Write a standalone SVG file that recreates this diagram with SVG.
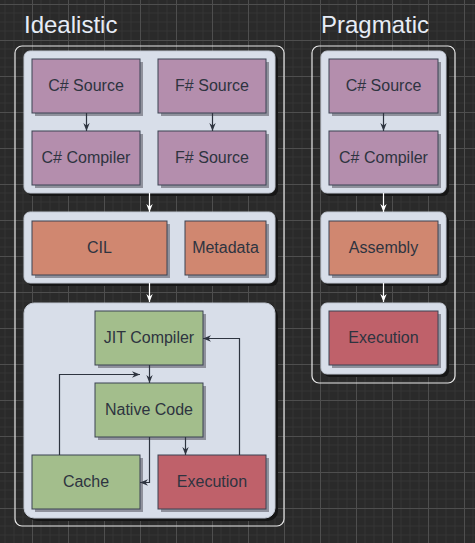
<svg xmlns="http://www.w3.org/2000/svg" width="475" height="543" viewBox="0 0 475 543">
<defs>
<pattern id="grid" patternUnits="userSpaceOnUse" x="32" y="4" width="36" height="36">
<rect width="36" height="36" fill="#2a2a2a"/>
<path d="M9 0V36M18 0V36M27 0V36M0 9H36M0 18H36M0 27H36" stroke="#343434" stroke-width="1" fill="none"/>
<path d="M0.5 0V36M0 0.5H36" stroke="#4e4e4e" stroke-width="1" fill="none"/>
</pattern>
<marker id="ad" viewBox="0 0 10 10" refX="10" refY="5" markerWidth="8" markerHeight="8" markerUnits="userSpaceOnUse" orient="auto">
<path d="M0 1L10 5L0 9L3 5z" fill="#2e3440"/>
</marker>
<marker id="aw" viewBox="0 0 10 10" refX="10" refY="5" markerWidth="8" markerHeight="8" markerUnits="userSpaceOnUse" orient="auto">
<path d="M0 1L10 5L0 9L3 5z" fill="#ffffff"/>
</marker>
</defs>
<style>
.title{font-family:"Liberation Sans",Arial,sans-serif;font-size:24px;fill:#e6ecf6}
.frame{fill:none;stroke:#e8e8e8;stroke-width:1.2}
.panel{fill:#d8dee9;stroke:#c2c8d3;stroke-width:1}
.pshadow{fill:#161616}
.bshadow{fill:#8f919c}
.box{stroke:#3b4252;stroke-width:1}
.purple{fill:#b48ead}
.orange{fill:#d08770}
.red{fill:#bf616a}
.green{fill:#a3be8c}
.lbl{font-family:"Liberation Sans",Arial,sans-serif;font-size:16px;fill:#2e3440;text-anchor:middle}
.cd{fill:none;stroke:#2e3440;stroke-width:1.2;marker-end:url(#ad)}
.cw{fill:none;stroke:#ffffff;stroke-width:1.2;marker-end:url(#aw)}
</style>
<rect width="475" height="543" fill="url(#grid)"/>

<text class="title" x="24" y="33">Idealistic</text>
<text class="title" x="321" y="33">Pragmatic</text>

<g id="frame-idealistic"><rect class="frame" x="15" y="46" width="269" height="480" rx="7"/></g>
<g id="frame-pragmatic"><rect class="frame" x="312" y="46" width="143" height="337" rx="7"/></g>

<g id="panel-i1"><rect class="pshadow" x="27" y="54" width="251" height="142" rx="6"/><rect class="panel" x="24" y="51" width="251" height="142" rx="6"/></g>
<g id="panel-i2"><rect class="pshadow" x="27" y="215" width="251" height="71" rx="6"/><rect class="panel" x="24" y="212" width="251" height="71" rx="6"/></g>
<g id="panel-i3"><rect class="pshadow" x="27" y="306" width="251" height="215" rx="10"/><rect class="panel" x="24" y="303" width="251" height="215" rx="10"/></g>
<g id="panel-p1"><rect class="pshadow" x="324" y="54" width="125" height="142" rx="6"/><rect class="panel" x="321" y="51" width="125" height="142" rx="6"/></g>
<g id="panel-p2"><rect class="pshadow" x="324" y="215" width="125" height="71" rx="6"/><rect class="panel" x="321" y="212" width="125" height="71" rx="6"/></g>
<g id="panel-p3"><rect class="pshadow" x="324" y="306" width="125" height="71" rx="6"/><rect class="panel" x="321" y="303" width="125" height="71" rx="6"/></g>

<g id="i-csharp-source"><rect class="bshadow" x="35" y="62" width="108" height="54"/><rect class="box purple" x="32" y="59" width="108" height="54"/><text class="lbl" x="86" y="91">C# Source</text></g>
<g id="i-fsharp-source"><rect class="bshadow" x="161" y="62" width="108" height="54"/><rect class="box purple" x="158" y="59" width="108" height="54"/><text class="lbl" x="212" y="91">F# Source</text></g>
<g id="i-csharp-compiler"><rect class="bshadow" x="35" y="134" width="108" height="54"/><rect class="box purple" x="32" y="131" width="108" height="54"/><text class="lbl" x="86" y="163">C# Compiler</text></g>
<g id="i-fsharp-source2"><rect class="bshadow" x="161" y="134" width="108" height="54"/><rect class="box purple" x="158" y="131" width="108" height="54"/><text class="lbl" x="212" y="163">F# Source</text></g>

<g id="i-cil"><rect class="bshadow" x="35" y="224" width="135" height="54"/><rect class="box orange" x="32" y="221" width="135" height="54"/><text class="lbl" x="99.5" y="253">CIL</text></g>
<g id="i-metadata"><rect class="bshadow" x="188" y="224" width="81" height="54"/><rect class="box orange" x="185" y="221" width="81" height="54"/><text class="lbl" x="225.5" y="253">Metadata</text></g>

<g id="i-jit"><rect class="bshadow" x="98" y="314" width="108" height="54"/><rect class="box green" x="95" y="311" width="108" height="54"/><text class="lbl" x="149" y="343">JIT Compiler</text></g>
<g id="i-native"><rect class="bshadow" x="98" y="386" width="108" height="54"/><rect class="box green" x="95" y="383" width="108" height="54"/><text class="lbl" x="149" y="415">Native Code</text></g>
<g id="i-cache"><rect class="bshadow" x="35" y="458" width="108" height="54"/><rect class="box green" x="32" y="455" width="108" height="54"/><text class="lbl" x="86" y="487">Cache</text></g>
<g id="i-execution"><rect class="bshadow" x="161" y="458" width="108" height="54"/><rect class="box red" x="158" y="455" width="108" height="54"/><text class="lbl" x="212" y="487">Execution</text></g>

<g id="p-csharp-source"><rect class="bshadow" x="332" y="62" width="109" height="54"/><rect class="box purple" x="329" y="59" width="109" height="54"/><text class="lbl" x="383.5" y="91">C# Source</text></g>
<g id="p-csharp-compiler"><rect class="bshadow" x="332" y="134" width="109" height="54"/><rect class="box purple" x="329" y="131" width="109" height="54"/><text class="lbl" x="383.5" y="163">C# Compiler</text></g>
<g id="p-assembly"><rect class="bshadow" x="332" y="224" width="109" height="54"/><rect class="box orange" x="329" y="221" width="109" height="54"/><text class="lbl" x="383.5" y="253">Assembly</text></g>
<g id="p-execution"><rect class="bshadow" x="332" y="314" width="109" height="54"/><rect class="box red" x="329" y="311" width="109" height="54"/><text class="lbl" x="383.5" y="343">Execution</text></g>

<g id="connectors">
<path class="cd" d="M86.5 113V131"/>
<path class="cd" d="M212.5 113V131"/>
<path class="cw" d="M149.5 193V212"/>
<path class="cw" d="M149.5 283V302"/>
<path class="cd" d="M149.5 365V383"/>
<path class="cd" d="M59.5 455V374.5H140"/>
<path class="cd" d="M149.5 437V482.5H140"/>
<path class="cd" d="M185.5 437V455"/>
<path class="cd" d="M239.5 455V338.5H203"/>
<path class="cd" d="M383.5 113V131"/>
<path class="cw" d="M383.5 193V212"/>
<path class="cw" d="M383.5 283V302"/>
</g>
</svg>
